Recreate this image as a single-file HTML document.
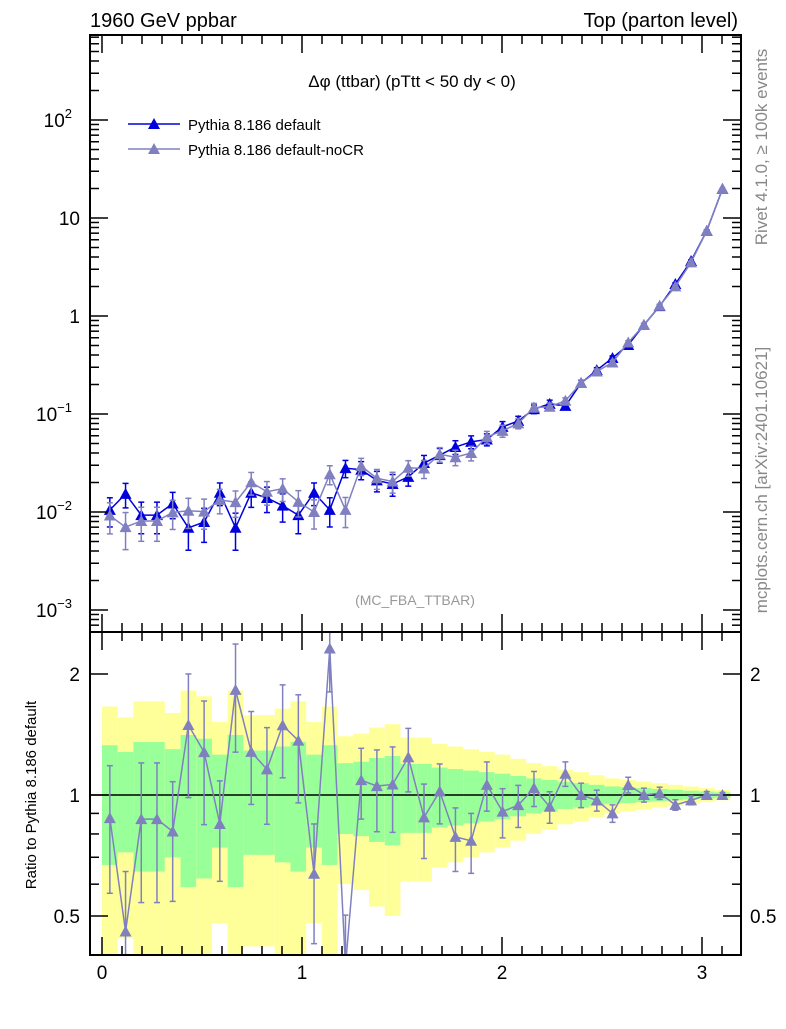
<!DOCTYPE html>
<html><head><meta charset="utf-8"><style>
body{margin:0;background:#fff}
svg{font-family:"Liberation Sans",sans-serif}
</style></head><body>
<svg id="c" width="786" height="1024" viewBox="0 0 786 1024" xmlns="http://www.w3.org/2000/svg">
<text x="90" y="27" font-size="20">1960 GeV ppbar</text>
<text x="738" y="27" font-size="20" text-anchor="end">Top (parton level)</text>
<text x="412" y="87" font-size="17" text-anchor="middle">Δφ (ttbar) (pTtt &lt; 50 dy &lt; 0)</text>
<text x="415" y="605" font-size="14" fill="#999" text-anchor="middle">(MC_FBA_TTBAR)</text>
<text transform="translate(767,147) rotate(-90)" font-size="17" fill="#888" text-anchor="middle">Rivet 4.1.0, ≥ 100k events</text>
<text transform="translate(767,480) rotate(-90)" font-size="17" fill="#888" text-anchor="middle">mcplots.cern.ch [arXiv:2401.10621]</text>
<text transform="translate(36,795) rotate(-90)" font-size="15" text-anchor="middle">Ratio to Pythia 8.186 default</text>
<g>
<line x1="128" y1="124" x2="180" y2="124" stroke="#0000dd" stroke-width="1.5"/>
<polygon points="154,118 160,129 148,129" fill="#0000dd"/>
<text x="188" y="130" font-size="15">Pythia 8.186 default</text>
<line x1="128" y1="149" x2="180" y2="149" stroke="#8080c0" stroke-width="1.5"/>
<polygon points="154,143 160,154 148,154" fill="#8080c0"/>
<text x="188" y="155" font-size="15">Pythia 8.186 default-noCR</text>
</g>
<g id="bands"></g><g id="marks"></g><g id="axes"></g>
</svg>
<script>
const nBins = 40;
const blueVals = [0.0105,0.0153,0.0093,0.0093,0.0122,0.0069,0.0079,0.0157,0.0069,0.0157,0.0139,0.0116,0.0093,0.0157,0.0105,0.028,0.027,0.021,0.0193,0.0228,0.0316,0.038,0.046,0.052,0.055,0.074,0.085,0.112,0.127,0.121,0.207,0.28,0.373,0.506,0.81,1.26,2.12,3.64,7.4,19.8];
const blueErr = [0.33,0.28,0.355,0.355,0.30,0.41,0.38,0.26,0.41,0.29,0.29,0.32,0.355,0.26,0.33,0.20,0.21,0.236,0.25,0.195,0.195,0.17,0.16,0.15,0.14,0.13,0.115,0.10,0.09,0.077,0.07,0.06,0.05,0.045,0.04,0.035,0.03,0.025,0.02,0.015];
const greyVals = [0.0092,0.0070,0.0081,0.0081,0.0099,0.0103,0.0101,0.0133,0.0126,0.0201,0.0161,0.0173,0.0127,0.0100,0.0243,0.0105,0.0294,0.0221,0.0205,0.0283,0.0278,0.0388,0.0362,0.040,0.0583,0.0673,0.0802,0.1165,0.1187,0.1367,0.207,0.2716,0.3357,0.536,0.81,1.273,2.003,3.53,7.4,19.8];
const greyErr = [0.35,0.41,0.38,0.38,0.33,0.34,0.34,0.28,0.30,0.26,0.27,0.26,0.30,0.33,0.22,0.34,0.20,0.23,0.24,0.18,0.21,0.17,0.18,0.17,0.14,0.14,0.12,0.10,0.09,0.07,0.07,0.06,0.05,0.045,0.04,0.035,0.03,0.025,0.02,0.015];
const mainTicks = [{v:100,l:"10",e:"2"},{v:10,l:"10"},{v:1,l:"1"},{v:0.1,l:"10",e:"−1"},{v:0.01,l:"10",e:"−2"},{v:0.001,l:"10",e:"−3"}];
const ratioTicks = [2,1,0.5];
const xTicks = [0,1,2,3];

const NS="http://www.w3.org/2000/svg";
const L=90,R=741,T=35,M=632,B=955;
const X0=-0.06,X1=3.195;
const sx=v=>L+(v-X0)/(X1-X0)*(R-L);
const sy=v=>316-Math.log10(v)*98;
const sr=v=>795-Math.log10(v)*402;
function mk(tag,at,parent){const e=document.createElementNS(NS,tag);for(const k in at)e.setAttribute(k,at[k]);parent.appendChild(e);return e;}
const bands=document.getElementById('bands'),marks=document.getElementById('marks'),axes=document.getElementById('axes');
const bw=Math.PI/nBins;
const clipR=y=>Math.max(M,Math.min(B,y));
for(let i=0;i<nBins;i++){
  const x0=sx(i*bw),x1=sx((i+1)*bw),e=blueErr[i];
  const lo2=1-2*e>0.01?sr(1-2*e):B;
  let r=mk('rect',{x:x0,y:clipR(sr(1+2*e)),width:x1-x0,height:clipR(lo2)-clipR(sr(1+2*e)),fill:'#ffff99'},bands);
  
  
  let g=mk('rect',{x:x0,y:clipR(sr(1+e)),width:x1-x0,height:clipR(sr(1-e))-clipR(sr(1+e)),fill:'#99ff99'},bands);
  
  
}
mk('line',{x1:L,x2:R,y1:sr(1),y2:sr(1),stroke:'#000','stroke-width':1.5},bands);
function tri(x,y,c,p){const t=mk('polygon',{points:`${x},${y-6} ${x+6},${y+5} ${x-6},${y+5}`,fill:c},p);return t;}
function series(vals,errs,col,name){
  const g=mk('g',{},marks);
  
  
  let pts=vals.map((v,i)=>[sx((i+0.5)*bw),sy(v)]);
  mk('polyline',{points:pts.map(p=>p.join(',')).join(' '),fill:'none',stroke:col,'stroke-width':1.5},g);
  vals.forEach((v,i)=>{
    const x=pts[i][0],yt=sy(v*(1+errs[i])),yb=sy(v*Math.max(0.05,1-errs[i]));
    mk('line',{x1:x,x2:x,y1:yt,y2:yb,stroke:col,'stroke-width':1.5},g);
    mk('line',{x1:x-3,x2:x+3,y1:yt,y2:yt,stroke:col,'stroke-width':1.5},g);
    mk('line',{x1:x-3,x2:x+3,y1:yb,y2:yb,stroke:col,'stroke-width':1.5},g);
    const t=tri(x,pts[i][1],col,g);
    
    
  });
}
series(blueVals,blueErr,'#0000dd','series-default');
series(greyVals,greyErr,'#8080c0','series-nocr');
const rg=mk('g',{},marks);


mk('clipPath',{id:'rc'},rg);
mk('rect',{x:L,y:M,width:R-L,height:B-M},document.getElementById('rc'));
const rIn=mk('g',{'clip-path':'url(#rc)'},rg);
const ratios=greyVals.map((v,i)=>v/blueVals[i]);
const rpts=ratios.map((r,i)=>[sx((i+0.5)*bw),sr(r)]);
mk('polyline',{points:rpts.map(p=>p.join(',')).join(' '),fill:'none',stroke:'#8080c0','stroke-width':1.5},rIn);
ratios.forEach((r,i)=>{
  const x=rpts[i][0],yt=sr(r*(1+greyErr[i])),yb=sr(r*(1-greyErr[i]));
  mk('line',{x1:x,x2:x,y1:yt,y2:yb,stroke:'#8080c0','stroke-width':1.5},rIn);
  mk('line',{x1:x-3,x2:x+3,y1:yt,y2:yt,stroke:'#8080c0','stroke-width':1.5},rIn);
  mk('line',{x1:x-3,x2:x+3,y1:yb,y2:yb,stroke:'#8080c0','stroke-width':1.5},rIn);
  const t=tri(x,rpts[i][1],'#8080c0',rIn);
  
  
});
mk('rect',{x:L,y:T,width:R-L,height:M-T,fill:'none',stroke:'#000','stroke-width':2},axes);
mk('rect',{x:L,y:M,width:R-L,height:B-M,fill:'none',stroke:'#000','stroke-width':2},axes);
const tk=(x1,y1,x2,y2)=>mk('line',{x1,y1,x2,y2,stroke:'#000','stroke-width':1.5},axes);
for(let d=-4;d<=2;d++){for(let k=1;k<=9;k++){const v=k*Math.pow(10,d);const y=sy(v);if(y<T||y>M)continue;const len=k==1?18:9;tk(L,y,L+len,y);tk(R,y,R-len,y);}}
mainTicks.forEach(t=>{const y=sy(t.v);const tx=mk('text',{x:t.e?72:80,y:y+7,'font-size':19,'text-anchor':'end'},axes);tx.textContent=t.l;
 
 
 if(t.e){const s=mk('tspan',{'font-size':13,dy:-9},tx);s.textContent=t.e;}});
[0.4,0.5,0.6,0.7,0.8,0.9,1,2].forEach(v=>{const y=sr(v);const len=(v==1||v==0.5||v==2)?18:9;tk(L,y,L+len,y);tk(R,y,R-len,y);});
ratioTicks.forEach(v=>{const y=sr(v);
 let a=mk('text',{x:80,y:y+7,'font-size':19,'text-anchor':'end'},axes);a.textContent=String(v);
 
 
 let b=mk('text',{x:750,y:y+7,'font-size':19},axes);b.textContent=String(v);
 
 });
for(let i=0;i<=31;i++){const v=i/10,x=sx(v);const len=i%10==0?18:9;tk(x,T,x,T+len);tk(x,M,x,M-len);tk(x,M,x,M+len);tk(x,B,x,B-len);}
xTicks.forEach(v=>{const t=mk('text',{x:sx(v),y:979,'font-size':19,'text-anchor':'middle'},axes);t.textContent=String(v);
 
 });
</script>
</body></html>
